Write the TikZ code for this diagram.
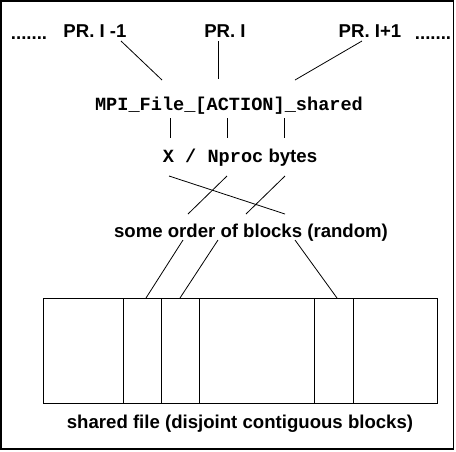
\documentclass[tikz,border=0pt]{standalone}
\usepackage{fontspec}
\setsansfont{Liberation Sans}
\setmonofont{Liberation Mono}
\usetikzlibrary{positioning}
\tikzstyle{txt} = [inner sep=0pt, anchor=base, font=\sffamily\bfseries\fontsize{18.6}{22}\selectfont]
\tikzstyle{block} = [rectangle, draw=black, line width=0.8pt, minimum height=105pt, outer sep=0pt, inner sep=0pt, anchor=north west]
\tikzstyle{link} = [line width=0.8pt]

\begin{document}
\begin{tikzpicture}[x=1pt, y=-1pt]
\useasboundingbox (0,0) rectangle (456,451);
\draw [line width=1.2pt] (1,1) rectangle (453.5,449);

% processes
\node (dotsL) [txt] at (29,39) {.......};
\node (pr1) [txt] at (95,37) {PR. I -1};
\node (pr2) [txt] at (225,37) {PR. I};
\node (pr3) [txt] at (370,37) {PR. I+1};
\node (dotsR) [txt] at (433,39) {.......};

\node (mpi) [txt] at (229,110) {\ttfamily MPI\_File\_[ACTION]\_shared};
\node (nproc) [txt] at (240,162) {{\ttfamily X / Nproc} bytes};
\node (order) [txt] at (251,237) {some order of blocks (random)};

% shared file
\node (blk1) [block, minimum width=80pt] at (43,298) {};
\node (blk2) [block, right=0pt of blk1, minimum width=38pt] {};
\node (blk3) [block, right=0pt of blk2, minimum width=38pt] {};
\node (blk4) [block, right=0pt of blk3, minimum width=115pt] {};
\node (blk5) [block, right=0pt of blk4, minimum width=39pt] {};
\node (blk6) [block, right=0pt of blk5, minimum width=84pt] {};
\node (shared) [txt] at (240,428) {shared file (disjoint contiguous blocks)};

% line ends
\coordinate (p1) at (121,41);
\coordinate (p2) at (218,41);
\coordinate (p3) at (362,41);
\coordinate (q1) at (162,80);
\coordinate (q2) at (218,79);
\coordinate (q3) at (295,80);
\draw [link] (p1) -- (q1);
\draw [link] (p2) -- (q2);
\draw [link] (p3) -- (q3);

\foreach \x in {170,227,284}
  \draw [link] (\x,118) coordinate (t\x) -- (\x,138) coordinate (u\x);

\coordinate (c1) at (169,176);
\coordinate (c2) at (227,176);
\coordinate (c3) at (285,176);
\coordinate (d1) at (285,214);
\coordinate (d2) at (188,214);
\coordinate (d3) at (246,214);
\draw [link] (c1) -- (d1);
\draw [link] (c2) -- (d2);
\draw [link] (c3) -- (d3);

\coordinate (o1) at (183,240);
\coordinate (o2) at (218,240);
\coordinate (o3) at (295,240);
\draw [link] (o1) -- ([xshift=4pt]blk2.north);
\draw [link] (o2) -- (blk3.north);
\draw [link] (o3) -- ([xshift=3.5pt]blk5.north);

\end{tikzpicture}
\end{document}
